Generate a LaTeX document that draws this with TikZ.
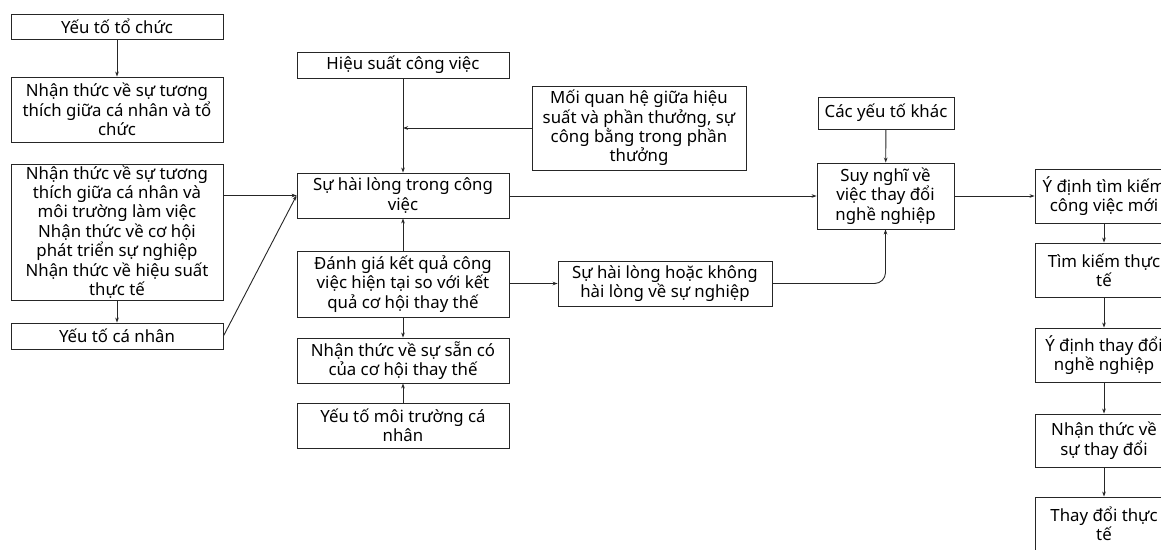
\documentclass[tikz,border=0pt]{standalone}
\usepackage{fontspec}
\setmainfont{Noto Sans}
\usetikzlibrary{arrows.meta}
\tikzset{
  box/.style={draw=black!85, line width=0.9pt, rectangle, inner sep=0pt,
    align=center, font=\fontsize{16.8}{19.4}\selectfont, text=black},
  link/.style={draw=black!85, line width=0.9pt, -{Stealth[length=5pt,width=3.6pt]}},
}
\begin{document}
\begin{tikzpicture}[x=1pt,y=-1pt]
\useasboundingbox (0,0) rectangle (1161,549);
\fill[white] (0,0) rectangle (1161,549);
\clip (0,0) rectangle (1161,549);

% left column: organisational and personal factors
\node[box, minimum width=212pt, minimum height=25pt] (org) at (117,26.5) {Yếu tố tổ chức};
\node[box, minimum width=212pt, minimum height=65pt] (fitorg) at (117,109.5)
  {Nhận thức về sự tương\\thích giữa cá nhân và tổ\\chức};
\node[box, minimum width=212pt, minimum height=136pt] (big) at (117,232)
  {Nhận thức về sự tương\\thích giữa cá nhân và\\môi trường làm việc\\Nhận thức về cơ hội\\phát triển sự nghiệp\\Nhận thức về hiệu suất\\thực tế};
\node[box, minimum width=212pt, minimum height=26pt] (personal) at (117,336) {Yếu tố cá nhân};

% centre column
\node[box, minimum width=212pt, minimum height=26pt] (perf) at (403,65) {Hiệu suất công việc};
\node[box, minimum width=214pt, minimum height=84pt] (reward) at (639,128)
  {Mối quan hệ giữa hiệu\\suất và phần thưởng, sự\\công bằng trong phần\\thưởng};
\node[box, minimum width=212pt, minimum height=45pt] (jobsat) at (403,195.5)
  {Sự hài lòng trong công\\việc};
\node[box, minimum width=212pt, minimum height=66pt] (eval) at (403,284)
  {Đánh giá kết quả công\\việc hiện tại so với kết\\quả cơ hội thay thế};
\node[box, minimum width=212pt, minimum height=45pt] (avail) at (403,360.5)
  {Nhận thức về sự sẵn có\\của cơ hội thay thế};
\node[box, minimum width=212pt, minimum height=45pt] (envir) at (403,425.5)
  {Yếu tố môi trường cá\\nhân};
\node[box, minimum width=214pt, minimum height=45pt] (career) at (665,283.5)
  {Sự hài lòng hoặc không\\hài lòng về sự nghiệp};

% career-change thinking
\node[box, minimum width=136pt, minimum height=32pt] (other) at (886,113) {Các yếu tố khác};
\node[box, minimum width=137pt, minimum height=66pt] (think) at (885.5,196)
  {Suy nghĩ về\\việc thay đổi\\nghề nghiệp};

% right column: intentions and actual change (runs past the right edge)
\node[box, minimum width=138pt, minimum height=54pt] (intent) at (1104,196)
  {Ý định tìm kiếm\\công việc mới};
\node[box, minimum width=138pt, minimum height=54pt] (search) at (1104,270)
  {Tìm kiếm thực\\tế};
\node[box, minimum width=138pt, minimum height=54pt] (intchange) at (1104,355)
  {Ý định thay đổi\\nghề nghiệp};
\node[box, minimum width=138pt, minimum height=53pt] (percchange) at (1104,440.5)
  {Nhận thức về\\sự thay đổi};
\node[box, minimum width=138pt, minimum height=54pt] (actual) at (1104,524)
  {Thay đổi thực\\tế};

% connectors
\draw[link] (org) -- (fitorg);
\draw[link] (big) -- (personal);
\draw[link] (big.east |- jobsat.west) -- (jobsat.west);
\draw[link] (personal.east) -- (jobsat.west);
\draw[link] (perf) -- (jobsat);
\coordinate (join) at (perf.south |- reward.west);
\draw[link] (reward.west) -- (join);
\draw[link] (eval) -- (jobsat);
\draw[link] (eval) -- (avail);
\draw[link] (envir) -- (avail);
\draw[link] (eval.east |- career.west) -- (career.west);
\draw[link] (jobsat.east |- think.west) -- (think.west);
\draw[link, rounded corners=11pt] (career.east) -| (think.south);
\draw[link] (other) -- (think);
\draw[link] (think) -- (intent);
\draw[link] (intent) -- (search);
\draw[link] (search) -- (intchange);
\draw[link] (intchange) -- (percchange);
\draw[link] (percchange) -- (actual);
\end{tikzpicture}
\end{document}
